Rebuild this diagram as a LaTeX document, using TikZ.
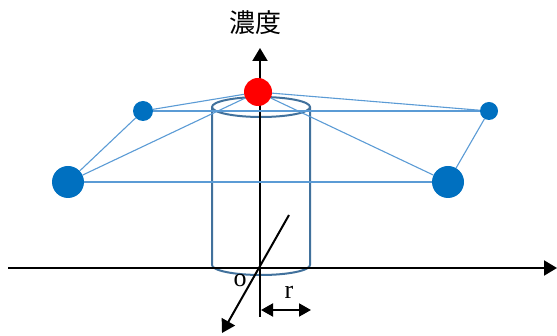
\documentclass[tikz,border=0pt]{standalone}
\usepackage{fontspec}
\setmainfont{Liberation Serif}
\newfontfamily\cjk{Noto Sans CJK JP}
\usetikzlibrary{arrows.meta, positioning}
\definecolor{dotblue}{HTML}{0070C0}
\definecolor{linkblue}{HTML}{5B9BD5}
\definecolor{cylblue}{HTML}{41719C}

\begin{document}
\begin{tikzpicture}[x=1pt, y=-1pt,
        dot/.style={circle, fill=dotblue, inner sep=0pt},
        link/.style={draw=linkblue, line width=1.1pt},
        axis/.style={line width=2pt, -{Triangle[length=13pt, width=15pt]}},
        cyl/.style={draw=cylblue, line width=2pt},
        lbl/.style={font=\fontsize{26}{28}\selectfont, inner sep=0pt}
    ]
        \useasboundingbox (0,0) rectangle (557,336);

        % Cylinder
        \draw[cyl] (261,107) ellipse [x radius=49, y radius=10];
        \draw[cyl] (212,107) -- (212,265) arc [start angle=180, end angle=0, x radius=49, y radius=10] -- (310,107);

        % Axes
        \coordinate (o) at (260,268);
        \coordinate (xs) at (8,268);
        \coordinate (xe) at (557,268);
        \coordinate (ys) at (260,317);
        \coordinate (ye) at (260,48);
        \coordinate (zs) at (289,215);
        \coordinate (ze) at (222,333);
        \draw[axis] (xs) -- (xe);
        \draw[axis] (ys) -- (ye);
        \draw[axis] (zs) -- (ze);
        \node[font=\cjk\fontsize{26}{28}\selectfont] (conc) at (255,23) {濃度};
        \node[lbl] (olbl) at (240,281) {o};
        \node[lbl] (rlbl) at (289,292) {r};

        % Radius
        \coordinate (r0) at (261,310);
        \coordinate (r1) at (311,310);
        \draw[line width=2pt, {Triangle[length=12pt, width=13pt]}-{Triangle[length=12pt, width=13pt]}] (r0) -- (r1);

        % Points
        \node[dot, minimum size=28pt, fill=red] (peak) at (258,92) {};
        \node[dot, minimum size=20pt] (ul) at (143,111) {};
        \node[dot, minimum size=32pt] (ll) at (68,182) {};
        \node[dot, minimum size=18pt] (ur) at (489,111) {};
        \node[dot, minimum size=32pt] (lr) at (448,182) {};

        % Links
        \draw[link] (ll) -- (ul);
        \draw[link] (ll) -- (peak);
        \draw[link] (ll) -- (lr);
        \draw[link] (ul) -- (peak);
        \draw[link] (ul) -- (ur);
        \draw[link] (peak) -- (ur);
        \draw[link] (peak) -- (lr);
        \draw[link] (ur) -- (lr);
    \end{tikzpicture}
\end{document}
